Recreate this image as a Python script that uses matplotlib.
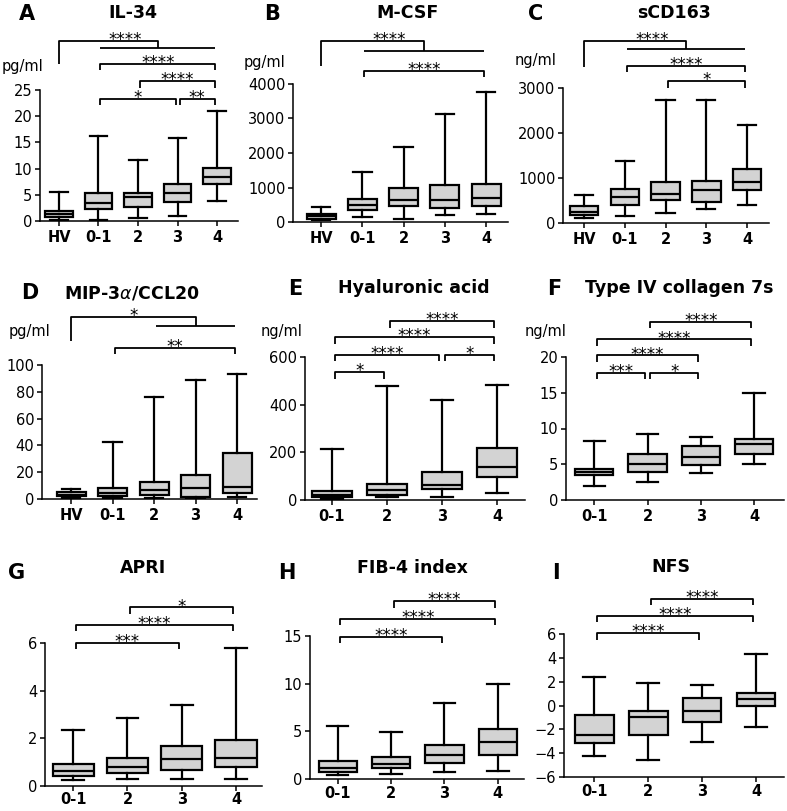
import numpy as np
import matplotlib.pyplot as plt

W, H = 787, 811

groups5 = ['HV', '0-1', '2', '3', '4']
groups4 = ['0-1', '2', '3', '4']

# A  IL-34 (pg/ml)
il34_lo = [0.2, 0.1, 0.6, 1.0, 3.75]
il34_q1 = [0.7, 2.35, 2.6, 3.6, 7.0]
il34_med = [1.3, 3.5, 4.6, 5.3, 8.4]
il34_q3 = [2.0, 5.3, 5.4, 7.1, 10.2]
il34_hi = [5.5, 16.3, 11.6, 15.9, 20.9]

# B  M-CSF (pg/ml)
mcsf_lo = [68, 155, 77, 203, 232]
mcsf_q1 = [97, 348, 454, 396, 454]
mcsf_med = [165, 483, 638, 638, 696]
mcsf_q3 = [222, 667, 985, 1072, 1092]
mcsf_hi = [435, 1450, 2184, 3140, 3778]

# C  sCD163 (ng/ml)
scd_lo = [118, 162, 214, 302, 398]
scd_q1 = [170, 398, 508, 472, 737]
scd_med = [251, 567, 641, 744, 921]
scd_q3 = [376, 752, 914, 936, 1194]
scd_hi = [612, 1385, 2741, 2727, 2167]

# D  MIP-3a/CCL20 (pg/ml)
mip_lo = [0.7, 1.0, 1.0, 0.7, 1.5]
mip_q1 = [2.0, 2.5, 3.0, 1.5, 4.2]
mip_med = [3.2, 4.5, 6.7, 8.2, 9.2]
mip_q3 = [5.2, 8.2, 12.9, 17.9, 34.0]
mip_hi = [7.4, 42.4, 76.4, 88.6, 93.3]

# E  hyaluronic acid (ng/ml)
ha_lo = [3, 11, 11, 29]
ha_q1 = [11, 21, 45, 97]
ha_med = [21, 42, 63, 140]
ha_q3 = [39, 66, 116, 220]
ha_hi = [213, 477, 421, 481]

# F  type IV collagen 7s (ng/ml)
col_lo = [1.95, 2.5, 3.8, 5.0]
col_q1 = [3.5, 3.85, 4.9, 6.4]
col_med = [3.95, 5.0, 5.95, 7.8]
col_q3 = [4.4, 6.4, 7.5, 8.6]
col_hi = [8.3, 9.3, 8.8, 15.0]

# G  APRI
apri_lo = [0.26, 0.28, 0.28, 0.28]
apri_q1 = [0.42, 0.54, 0.68, 0.78]
apri_med = [0.62, 0.79, 1.15, 1.19]
apri_q3 = [0.91, 1.19, 1.66, 1.95]
apri_hi = [2.35, 2.85, 3.39, 5.8]

# H  FIB-4 index
fib_lo = [0.38, 0.56, 0.7, 0.8]
fib_q1 = [0.7, 1.15, 1.67, 2.47]
fib_med = [1.15, 1.57, 2.5, 3.93]
fib_q3 = [1.91, 2.26, 3.55, 5.26]
fib_hi = [5.6, 4.94, 7.94, 10.0]

# I  NFS
nfs_lo = [-4.27, -4.55, -3.06, -1.8]
nfs_q1 = [-3.15, -2.5, -1.41, -0.07]
nfs_med = [-2.45, -0.99, -0.49, 0.55]
nfs_q3 = [-0.8, -0.49, 0.63, 1.05]
nfs_hi = [2.39, 1.92, 1.75, 4.35]

# significance brackets (group index from, to, label) and their heights
il34_sig = [(1, 3, '*'), (3, 4, '**'), (2, 4, '****'), (1, 4, '****')]
il34_sig_y = [23.3, 23.3, 26.7, 30.0]
mcsf_sig = [(1, 4, '****')]
mcsf_sig_y = [4386]
scd_sig = [(2, 4, '*'), (1, 4, '****')]
scd_sig_y = [3154, 3500]
mip_sig = [(1, 4, '**')]
mip_sig_y = [112.9]
ha_sig = [(0, 1, '*'), (0, 2, '****'), (2, 3, '*'), (0, 3, '****'), (1, 3, '****')]
ha_sig_y = [537, 610, 610, 683, 750]
col_sig = [(0, 1, '***'), (1, 2, '*'), (0, 2, '****'), (0, 3, '****'), (1, 3, '****')]
col_sig_y = [17.77, 17.77, 20.23, 22.47, 24.9]
apri_sig = [(0, 2, '***'), (0, 3, '****'), (1, 3, '*')]
apri_sig_y = [6.02, 6.76, 7.49]
fib_sig = [(0, 2, '****'), (0, 3, '****'), (1, 3, '****')]
fib_sig_y = [14.9, 16.8, 18.66]
nfs_sig = [(0, 2, '****'), (0, 3, '****'), (1, 3, '****')]
nfs_sig_y = [6.08, 7.54, 8.94]

# HV versus pooled groups: (ref, first, last, label), heights (pooled line, top, ref leg end)
il34_grp = (0, 1, 4, '****')
il34_grp_y = (33.1, 34.4, 30.0)
mcsf_grp = (0, 1, 4, '****')
mcsf_grp_y = (4966, 5237, 4512)
scd_grp = (0, 1, 4, '****')
scd_grp_y = (3869, 4053, 3464)
mip_grp = (0, 2, 4, '*')
mip_grp_y = (129.3, 136.0, 117.9)

fig = plt.figure(figsize=(W / 100, H / 100), dpi=100)

LW = 1.6


def px_axes(left, right, top, bottom):
    return fig.add_axes([left / W, 1 - bottom / H, (right - left) / W, (bottom - top) / H])


def panel(rect, xlim, ylim, yticks, labels, lo, q1, med, q3, hi, sig, sig_y,
          grp=None, grp_y=None, width=0.7, capw=0.45, xpad=3):
    ax = px_axes(*rect)
    stats = [dict(whislo=a, q1=b, med=c, q3=d, whishi=e, label=l)
             for a, b, c, d, e, l in zip(lo, q1, med, q3, hi, labels)]
    ax.bxp(stats, positions=range(len(labels)), widths=width, capwidths=capw,
           patch_artist=True, showfliers=False,
           boxprops=dict(facecolor='#d3d3d3', edgecolor='black', linewidth=LW),
           medianprops=dict(color='black', linewidth=LW),
           whiskerprops=dict(color='black', linewidth=LW),
           capprops=dict(color='black', linewidth=LW))
    ax.set_xlim(*xlim)
    ax.set_ylim(*ylim)
    ax.set_yticks(yticks)
    ax.set_xticks(range(len(labels)))
    ax.set_xticklabels(labels, fontweight='bold', fontsize=11)
    for s in ['top', 'right']:
        ax.spines[s].set_visible(False)
    for s in ['left', 'bottom']:
        ax.spines[s].set_linewidth(1.1)
    ax.tick_params(direction='out', length=3.5, width=1.1, labelsize=10.5, pad=2)
    ax.tick_params(axis='x', pad=xpad)

    # bracket leg length ~6.5 px in data units
    leg = 6.5 * (ylim[1] - ylim[0]) / (rect[3] - rect[2])
    kw = dict(color='black', linewidth=1.3, clip_on=False, solid_capstyle='butt')
    for (a, b, lab), y in zip(sig, sig_y):
        xa, xb = a + 0.05, b - 0.05
        ax.plot([xa, xa, xb, xb], [y - leg, y, y, y - leg], **kw)
        ax.annotate(lab, ((a + b) / 2, y), xytext=(0, -3), textcoords='offset points',
                    ha='center', va='baseline', fontsize=12, annotation_clip=False)
    if grp is not None:
        ref, g1, g2, lab = grp
        yg, yt, yr = grp_y
        mid = (g1 + g2) / 2
        ax.plot([g1 + 0.05, g2 - 0.05], [yg, yg], **kw)
        ax.plot([ref, ref, mid, mid], [yr, yt, yt, yg], **kw)
        ha = 'center' if len(lab) == 1 else 'left'
        ax.annotate(lab, ((ref + mid) / 2, yt), xytext=(0, -3), textcoords='offset points',
                    ha=ha, va='baseline', fontsize=12, annotation_clip=False)
    return ax


panel((40, 238, 90, 221), (-0.48, 4.53), (0, 25), range(0, 26, 5), groups5,
      il34_lo, il34_q1, il34_med, il34_q3, il34_hi, il34_sig, il34_sig_y, il34_grp, il34_grp_y)
panel((293, 508, 84, 222), (-0.68, 4.53), (0, 4000), range(0, 4001, 1000), groups5,
      mcsf_lo, mcsf_q1, mcsf_med, mcsf_q3, mcsf_hi, mcsf_sig, mcsf_sig_y, mcsf_grp, mcsf_grp_y)
panel((563, 769, 88, 223), (-0.52, 4.54), (0, 3000), range(0, 3001, 1000), groups5,
      scd_lo, scd_q1, scd_med, scd_q3, scd_hi, scd_sig, scd_sig_y, scd_grp, scd_grp_y)
panel((42, 257, 365, 499), (-0.70, 4.48), (0, 100), range(0, 101, 20), groups5,
      mip_lo, mip_q1, mip_med, mip_q3, mip_hi, mip_sig, mip_sig_y, mip_grp, mip_grp_y)
panel((305, 525, 357, 500), (-0.49, 3.51), (0, 600), range(0, 601, 200), groups4,
      ha_lo, ha_q1, ha_med, ha_q3, ha_hi, ha_sig, ha_sig_y, width=0.74, capw=0.4)
panel((566, 784, 357, 500), (-0.53, 3.56), (0, 20), range(0, 21, 5), groups4,
      col_lo, col_q1, col_med, col_q3, col_hi, col_sig, col_sig_y, width=0.72, capw=0.4)
panel((45, 262, 643, 786), (-0.52, 3.48), (0, 6), range(0, 7, 2), groups4,
      apri_lo, apri_q1, apri_med, apri_q3, apri_hi, apri_sig, apri_sig_y, width=0.76, capw=0.4,
      xpad=0.5)
panel((310, 524, 636, 779), (-0.52, 3.49), (0, 15), range(0, 16, 5), groups4,
      fib_lo, fib_q1, fib_med, fib_q3, fib_hi, fib_sig, fib_sig_y, width=0.72, capw=0.4, xpad=1.5)
panel((564, 784, 634, 777), (-0.56, 3.52), (-6, 6), range(-6, 7, 2), groups4,
      nfs_lo, nfs_q1, nfs_med, nfs_q3, nfs_hi, nfs_sig, nfs_sig_y, width=0.72, capw=0.4, xpad=1.5)

titles = ['IL-34', 'M-CSF', 'sCD163', r'MIP-3$\alpha$/CCL20', 'Hyaluronic acid',
          'Type IV collagen 7s', 'APRI', 'FIB-4 index', 'NFS']
title_xy = [(133, 13), (407, 13), (674, 13), (132, 293), (414, 288), (679, 288),
            (143, 568), (412, 568), (671, 567)]
letters = list('ABCDEFGHI')
letter_xy = [(27, 14), (272, 14), (536, 14), (30, 293), (295, 289), (554, 289),
             (17, 573), (287, 573), (556, 573)]
for t, (x, y) in zip(titles, title_xy):
    fig.text(x / W, 1 - y / H, t, ha='center', va='center', fontsize=12.5, fontweight='bold')
for t, (x, y) in zip(letters, letter_xy):
    fig.text(x / W, 1 - y / H, t, ha='center', va='center', fontsize=15, fontweight='bold')

units = ['pg/ml', 'pg/ml', 'ng/ml', 'pg/ml', 'ng/ml', 'ng/ml']
unit_xy = [(43, 66), (285, 62), (556, 60), (50, 331), (302, 332), (567, 331)]
for t, (x, y) in zip(units, unit_xy):
    fig.text(x / W, 1 - y / H, t, ha='right', va='center', fontsize=10.5)

fig.savefig('out.png', dpi=100)
